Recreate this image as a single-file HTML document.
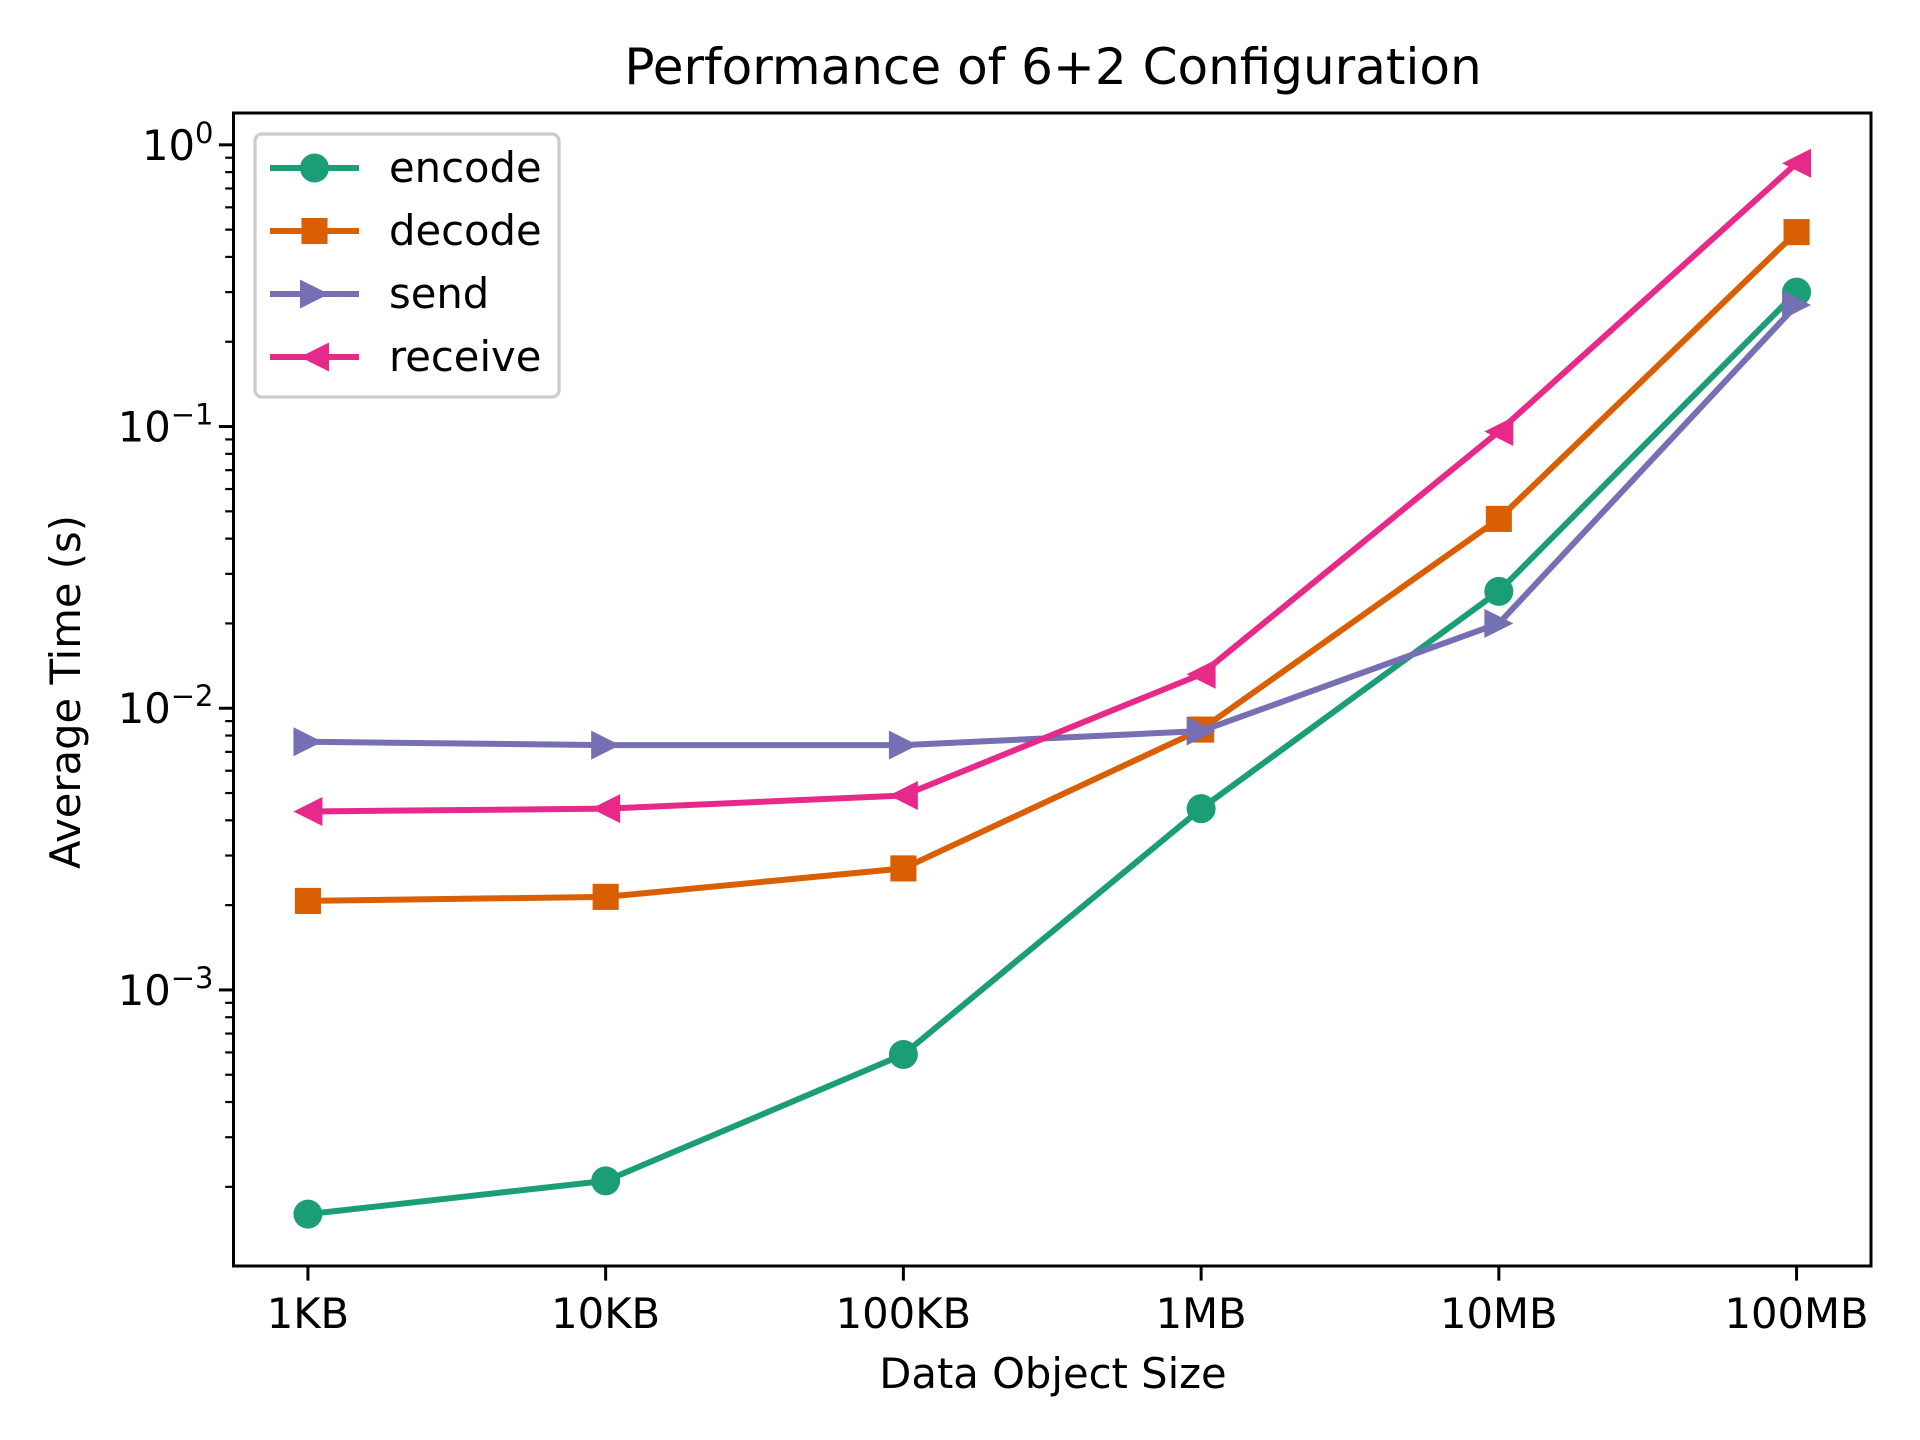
<!DOCTYPE html>
<html><head><meta charset="utf-8"><style>
html,body{margin:0;padding:0;background:#fff;}
svg{display:block;font-family:"DejaVu Sans","Liberation Sans",sans-serif;}
</style></head><body>
<svg id="chart" width="1920" height="1440" viewBox="0 0 1920 1440" xmlns="http://www.w3.org/2000/svg">
<rect width="1920" height="1440" fill="#fff"/>
<text x="1053" y="84" font-size="50" text-anchor="middle">Performance of 6+2 Configuration</text>
<text x="1053" y="1388" font-size="41.7" text-anchor="middle">Data Object Size</text>
<text transform="translate(80,692) rotate(-90)" font-size="41.7" text-anchor="middle">Average Time (s)</text>
<g id="plot"></g>
</svg>
<script>
const categories = ["1KB","10KB","100KB","1MB","10MB","100MB"];
const encodeValues = [1.6e-4, 2.1e-4, 5.9e-4, 4.4e-3, 0.026, 0.30];
const decodeValues = [2.07e-3, 2.14e-3, 2.7e-3, 8.4e-3, 0.047, 0.49];
const sendValues = [7.6e-3, 7.4e-3, 7.4e-3, 8.3e-3, 0.020, 0.27];
const receiveValues = [4.3e-3, 4.4e-3, 4.9e-3, 0.0132, 0.096, 0.86];
const yTickExponents = [0, -1, -2, -3];

const L=233.5,R=1871,T=113,B=1266;
const yMinLog=-3.98, yMaxLog=0.113;
function xs(i){return L+(i+0.25)/5.5*(R-L);}
function ys(v){return T+(yMaxLog-Math.log10(v))/(yMaxLog-yMinLog)*(B-T);}
const NS="http://www.w3.org/2000/svg";
const g=document.getElementById('plot');
function mk(tag,attrs,parent){const e=document.createElementNS(NS,tag);for(const k in attrs)e.setAttribute(k,attrs[k]);(parent||g).appendChild(e);return e;}

categories.forEach((c,i)=>{
  const x=xs(i);
  const t=mk('line',{x1:x,x2:x,y1:B,y2:B+14.6,stroke:'#000','stroke-width':3});
  
  
  const lb=mk('text',{x:x,y:B+62,'font-size':41.7,'text-anchor':'middle'});
  
  
  lb.textContent=c;
});
yTickExponents.forEach(e=>{
  const y=ys(Math.pow(10,e));
  const t=mk('line',{x1:L-14.6,x2:L,y1:y,y2:y,stroke:'#000','stroke-width':3});
  
  
  const lb=mk('text',{x:L-20,y:y+15,'font-size':41.7,'text-anchor':'end'});
  
  
  const a=document.createElementNS(NS,'tspan');a.textContent='10';lb.appendChild(a);
  const s=document.createElementNS(NS,'tspan');s.setAttribute('font-size','29');s.setAttribute('dy','-17');
  s.textContent=e===0?'0':'\u2212'+(-e);lb.appendChild(s);
});
for(let e=-4;e<=0;e++){
  for(let m=2;m<=9;m++){
    const v=m*Math.pow(10,e);
    const lv=Math.log10(v);
    if(lv<yMinLog||lv>yMaxLog)continue;
    const y=ys(v);
    const t=mk('line',{x1:L-8.3,x2:L,y1:y,y2:y,stroke:'#000','stroke-width':2.2});
    
    
  }
}

function marker(type,x,y,color,parent){
  const r=14.5;
  if(type==='circle')return mk('circle',{cx:x,cy:y,r:r,fill:color},parent);
  if(type==='square')return mk('rect',{x:x-r*0.9,y:y-r*0.9,width:r*1.8,height:r*1.8,fill:color},parent);
  if(type==='right')return mk('polygon',{points:`${x+r},${y} ${x-r},${y-r} ${x-r},${y+r}`,fill:color},parent);
  return mk('polygon',{points:`${x-r},${y} ${x+r},${y-r} ${x+r},${y+r}`,fill:color},parent);
}
const series=[
  {name:'encode',vals:encodeValues,color:'#1b9e77',m:'circle'},
  {name:'decode',vals:decodeValues,color:'#d95f02',m:'square'},
  {name:'send',vals:sendValues,color:'#7570b3',m:'right'},
  {name:'receive',vals:receiveValues,color:'#e7298a',m:'left'}
];
series.forEach(s=>{
  const sg=mk('g',{});
  
  
  const pl=mk('polyline',{points:s.vals.map((v,i)=>xs(i)+','+ys(v)).join(' '),fill:'none',stroke:s.color,'stroke-width':6,'stroke-linejoin':'round'},sg);
  
  
  s.vals.forEach((v,i)=>{
    const mm=marker(s.m,xs(i),ys(v),s.color,sg);
    
    
  });
});
const fr=mk('rect',{x:L,y:T,width:R-L,height:B-T,fill:'none',stroke:'#000','stroke-width':3});



const lg=mk('g',{});


mk('rect',{x:255,y:134,width:304,height:263,rx:7,fill:'#fff','fill-opacity':0.8,stroke:'#ccc','stroke-width':3.3},lg);
series.forEach((s,k)=>{
  const y=168+k*63;
  const e=mk('g',{},lg);
  
  
  mk('line',{x1:270,x2:359,y1:y,y2:y,stroke:s.color,'stroke-width':6},e);
  marker(s.m,314.5,y,s.color,e);
  const t=mk('text',{x:389,y:y+14,'font-size':41.7},e);
  t.textContent=s.name;
});
</script>
</body></html>
